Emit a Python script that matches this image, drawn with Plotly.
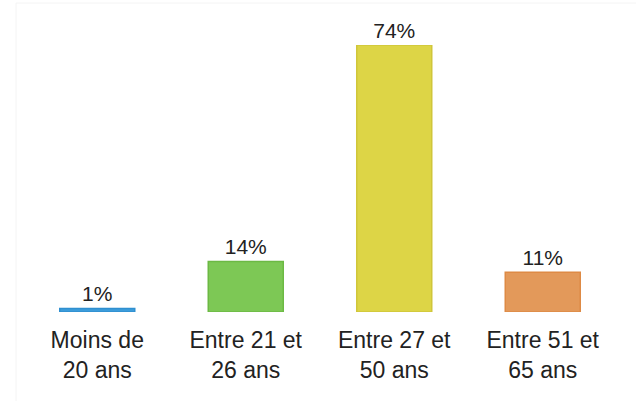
import plotly.graph_objects as go

# Age bracket distribution
categories = ["Moins de<br>20 ans", "Entre 21 et<br>26 ans", "Entre 27 et<br>50 ans", "Entre 51 et<br>65 ans"]
shares = [1, 14, 74, 11]
fill_colors = ["#3d9ddb", "#7dc855", "#ddd546", "#e3995a"]
edge_colors = ["#2f8fd0", "#6cb944", "#d0c63a", "#de8a45"]

W, H = 636, 401
fig = go.Figure(
    go.Bar(
        x=categories,
        y=shares,
        marker=dict(color=fill_colors, line=dict(color=edge_colors, width=1.5)),
        text=[f"{v}%" for v in shares],
        textposition="outside",
        textfont=dict(family="Liberation Sans, Arial, sans-serif", size=21, color="#222222"),
        cliponaxis=False,
        hoverinfo="skip",
    )
)

# faint outer frame
fig.add_shape(
    type="rect", xref="paper", yref="paper",
    x0=-7 / 594, x1=1.2, y0=-1, y1=(312 - 3) / 267,
    line=dict(color="#f4f4f4", width=1), layer="below",
)

fig.update_layout(
    width=W, height=H,
    margin=dict(l=23, r=19, t=45, b=89),
    paper_bgcolor="white", plot_bgcolor="white",
    bargap=0.495,
    showlegend=False,
    font=dict(family="Liberation Sans, Arial, sans-serif", color="#222222"),
    xaxis=dict(
        showgrid=False, zeroline=False, showline=False, ticks="",
        tickfont=dict(size=23, color="#222222"),
        ticklabelstandoff=12,
    ),
    yaxis=dict(range=[0, 74], visible=False),
)

fig.write_html("out.html")
